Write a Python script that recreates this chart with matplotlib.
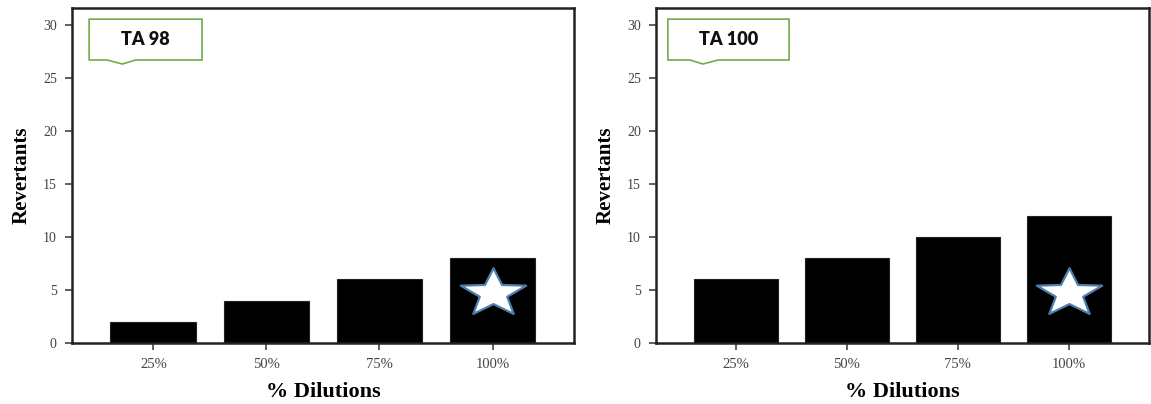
import matplotlib
matplotlib.use("Agg")
import matplotlib.pyplot as plt
import numpy as np
from matplotlib.patches import Polygon
from matplotlib.path import Path

dilutions = ["25%", "50%", "75%", "100%"]
ta98_revertants = [2, 4, 6, 8]
ta100_revertants = [6, 8, 10, 12]
strain_names = ["TA 98", "TA 100"]
star_level = 4.75
star_index = 3

SERIF = "Liberation Serif"

# five-point star, widened a bit so it sits nicely in the bar
ang = np.pi / 2 + np.arange(10) * np.pi / 5
rad = np.where(np.arange(10) % 2 == 0, 1.0, 0.42)
star_verts = np.column_stack([1.36 * rad * np.cos(ang), rad * np.sin(ang)])
star_verts = np.vstack([star_verts, star_verts[:1]])
star_codes = [Path.MOVETO] + [Path.LINETO] * 9 + [Path.CLOSEPOLY]
wide_star = Path(star_verts, star_codes)


def callout(ax, label, x0, x1, notch):
    y0, y1, tip = 0.845, 0.967, 0.833
    n0, nt, n1 = notch
    pts = [(x0, y1), (x1, y1), (x1, y0), (n1, y0), (nt, tip), (n0, y0), (x0, y0)]
    ax.add_patch(Polygon(pts, closed=True, transform=ax.transAxes, facecolor="white",
                         edgecolor="#70ad47", linewidth=1.2, zorder=5))
    ax.text((x0 + x1) / 2, (y0 + y1) / 2, label, transform=ax.transAxes, ha="center",
            va="center", fontsize=13, fontweight="heavy", family="Lato", color="#111111",
            zorder=6)


def draw_panel(ax, values, label, box):
    x = np.arange(len(dilutions))
    ax.bar(x, values, width=0.76, color="black", edgecolor="#222222", linewidth=0.8)
    ax.plot(x[star_index], star_level, marker=wide_star, markersize=47,
            markerfacecolor="white", markeredgecolor="#4f7fb0", markeredgewidth=1.6,
            linestyle="none", zorder=4)

    ax.set_xlim(-0.72, 3.72)
    ax.set_ylim(0, 31.6)
    ax.set_xticks(x)
    ax.set_xticklabels(dilutions, family=SERIF, fontsize=10.5, color="#444444")
    ax.set_yticks(range(0, 31, 5))
    ax.set_yticklabels([str(v) for v in range(0, 31, 5)], family=SERIF, fontsize=10,
                       color="#444444")
    ax.tick_params(axis="both", direction="out", length=5, width=1.2, color="#444444",
                   pad=6)
    for sp in ax.spines.values():
        sp.set_linewidth(1.8)
        sp.set_color("#222222")

    ax.set_xlabel("% Dilutions", family=SERIF, fontsize=16, fontweight="bold", labelpad=8)
    ax.set_ylabel("Revertants", family=SERIF, fontsize=15, fontweight="bold", labelpad=8)
    callout(ax, label, *box)


fig = plt.figure(figsize=(11.51, 4.04), dpi=100)
ax1 = fig.add_axes([0.0626, 0.151, 0.436, 0.829])
ax2 = fig.add_axes([0.570, 0.151, 0.428, 0.829])

draw_panel(ax1, ta98_revertants, strain_names[0], (0.034, 0.259, (0.070, 0.100, 0.127)))
draw_panel(ax2, ta100_revertants, strain_names[1], (0.024, 0.270, (0.069, 0.095, 0.126)))

fig.savefig("out.png", dpi=100, facecolor="white")
